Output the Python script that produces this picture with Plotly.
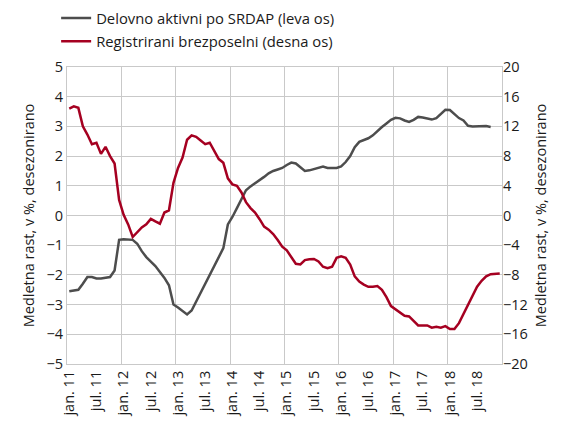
import plotly.graph_objects as go

years = ["11", "12", "13", "14", "15", "16", "17", "18"]
months = ["jan.", "feb.", "mar.", "apr.", "maj.", "jun.", "jul.", "avg.", "sep.", "okt.", "nov.", "dec."]
categories = [f"{m} {y}" for y in years for m in months]

tick_labels = [f"{m} {y}" for y in years for m in ["jan.", "jul."]]

delovno_aktivni = [
    -2.55, -2.52, -2.50, -2.30, -2.07, -2.07, -2.12, -2.12, -2.10, -2.07, -1.85, -0.82,
    -0.80, -0.80, -0.82, -0.95, -1.20, -1.40, -1.55, -1.70, -1.90, -2.10, -2.35, -3.00,
    -3.10, -3.20, -3.33, -3.20, -2.90, -2.60, -2.30, -2.05, -1.75, -1.45, -1.10, -0.30,
    -0.05, 0.25, 0.55, 0.85, 0.98, 1.08, 1.18, 1.30, 1.42, 1.50, 1.55, 1.60,
    1.70, 1.78, 1.75, 1.62, 1.50, 1.52, 1.57, 1.62, 1.65, 1.60, 1.60, 1.60,
    1.65, 1.80, 2.00, 2.30, 2.48, 2.55, 2.60, 2.70, 2.85, 2.98, 3.10, 3.22,
    3.29, 3.27, 3.20, 3.15, 3.22, 3.32, 3.30, 3.26, 3.23, 3.28, 3.42, 3.56,
    3.55, 3.40, 3.28, 3.20, 3.02, 3.00, 3.01, 3.02, 3.01, 2.98, None, None,
]

registrirani_brezposelni = [
    14.4, 14.7, 14.5, 12.0, 10.9, 9.6, 9.8, 8.3, 9.25, 8.0, 7.0, 2.1,
    0.1, -1.2, -2.9, -2.25, -1.6, -1.2, -0.45, -0.8, -1.1, 0.4, 0.7, 4.4,
    6.4, 7.8, 10.2, 10.8, 10.6, 10.1, 9.6, 9.8, 8.7, 7.6, 7.1, 5.0,
    4.2, 4.0, 3.1, 1.8, 1.0, 0.4, -0.5, -1.5, -1.9, -2.5, -3.3, -4.2,
    -4.7, -5.6, -6.5, -6.6, -6.0, -5.9, -5.85, -6.2, -6.9, -7.1, -6.9, -5.7,
    -5.5, -5.7, -6.6, -8.2, -8.9, -9.3, -9.6, -9.6, -9.5, -10.0, -11.0, -12.2,
    -12.6, -13.0, -13.5, -13.6, -14.2, -14.8, -14.8, -14.8, -15.1, -15.0, -15.1, -14.9,
    -15.3, -15.3, -14.5, -13.3, -12.0, -10.8, -9.6, -8.8, -8.2, -7.9, -7.8, -7.8,
]

x_idx = list(range(len(categories)))
tick_pos = x_idx[::6]
year_bounds = [i - 0.5 for i in x_idx[::12]] + [len(categories) - 0.5]
x_range = [-0.5, len(categories) - 0.5]

font_family = "Open Sans, Noto Sans, sans-serif"
grid_col = "#c9c9c9"

fig = go.Figure()
fig.add_trace(go.Scatter(
    x=x_idx, y=delovno_aktivni, name="Delovno aktivni po SRDAP (leva os)",
    mode="lines", line=dict(color="#4d4d4d", width=2.5), yaxis="y",
    hovertext=categories, legendgroup="a",
))
fig.add_trace(go.Scatter(
    x=x_idx, y=registrirani_brezposelni, name="Registrirani brezposelni (desna os)",
    mode="lines", line=dict(color="#a50021", width=2.5), yaxis="y2",
    hovertext=categories, legendgroup="b",
))

fig.update_layout(
    width=564, height=421,
    margin=dict(l=67, r=62, t=67, b=57, autoexpand=False),
    paper_bgcolor="white", plot_bgcolor="white",
    font=dict(family=font_family, size=14, color="#1a1a1a"),
    showlegend=True,
    legend=dict(
        x=-0.025, y=1.219, xanchor="left", yanchor="top",
        font=dict(size=14.8, color="#1a1a1a"),
        bgcolor="rgba(0,0,0,0)", tracegroupgap=1, itemwidth=30,
    ),
    xaxis=dict(
        range=x_range,
        tickmode="array", tickvals=tick_pos, ticktext=tick_labels,
        tickangle=-90, showgrid=False, zeroline=False,
        showline=True, mirror=True, linecolor=grid_col, linewidth=1,
        ticks="", tickfont=dict(size=14.5),
    ),
    xaxis2=dict(
        range=x_range, overlaying="x", side="bottom",
        tickmode="array", tickvals=year_bounds, showticklabels=False,
        showgrid=True, gridcolor=grid_col, gridwidth=1, zeroline=False,
        ticks="", layer="below traces",
    ),
    yaxis=dict(
        range=[-5, 5], dtick=1, tick0=-5, showgrid=True, gridcolor=grid_col,
        gridwidth=1, zeroline=False, showline=True, mirror=True,
        linecolor=grid_col, ticks="", tickfont=dict(size=14.5),
        title=dict(text="Medletna rast, v %, desezonirano", font=dict(size=14.5), standoff=8),
    ),
    yaxis2=dict(
        range=[-20, 20], dtick=4, tick0=-20, overlaying="y", side="right",
        showgrid=False, zeroline=False, ticks="", tickfont=dict(size=14.5),
        title=dict(text="Medletna rast, v %, desezonirano", font=dict(size=14.5), standoff=8),
    ),
)

# invisible anchor trace so the year-boundary grid axis is rendered
fig.add_trace(go.Scatter(
    x=[x_range[0]], y=[0], xaxis="x2", yaxis="y", mode="markers",
    marker=dict(opacity=0), showlegend=False, hoverinfo="skip",
))

fig.write_html(
    "out.html",
    config={"displayModeBar": False},
    post_script="document.body.style.margin='0';document.body.style.overflow='hidden';",
)
